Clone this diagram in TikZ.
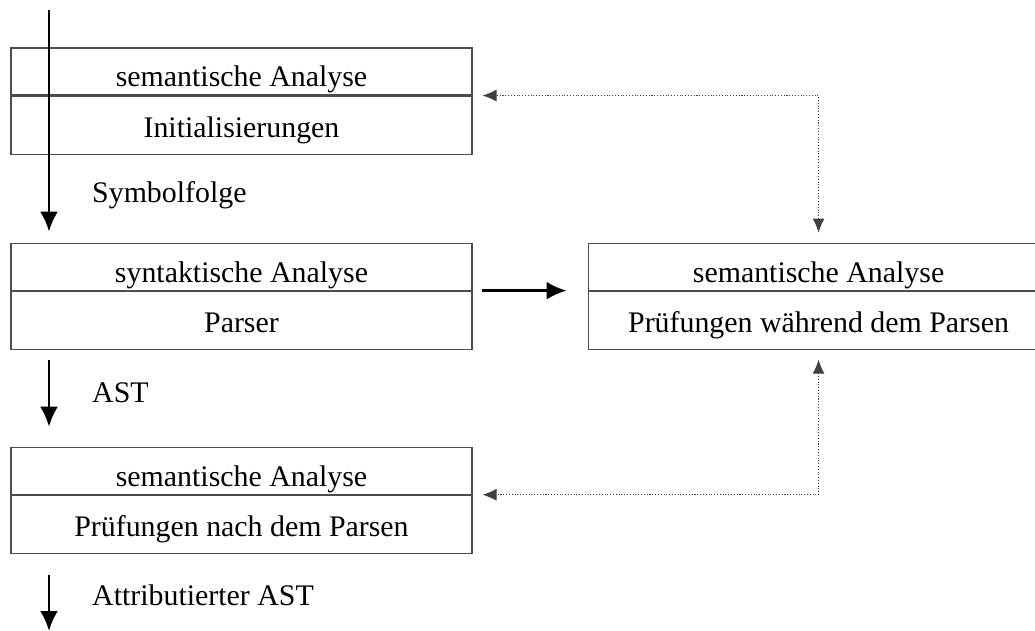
\documentclass[tikz,border=0pt]{standalone}
\usepackage{fontspec}
\setmainfont{Liberation Serif}
\usetikzlibrary{positioning, arrows.meta}

\begin{document}
\begin{tikzpicture}[node distance=1.76cm, font=\fontsize{17}{20}\selectfont]
                \tikzset{
                    head/.style={draw=black!70, line width=0.6pt, minimum width=9.22cm, minimum height=0.94cm, inner sep=0pt, text height=0.62cm, text depth=0cm},
                    body/.style={draw=black!70, line width=0.6pt, minimum width=9.22cm, minimum height=1.16cm, inner sep=0pt, text height=0.49cm, text depth=0cm},
                    flow/.style={-{Latex[length=0.4cm, width=0.36cm]}, line width=1.5pt},
                    link/.style={{Latex[length=0.28cm, width=0.24cm]}-{Latex[length=0.28cm, width=0.24cm]}, black!75, densely dotted, line width=0.6pt, shorten <=0.2cm, shorten >=0.2cm},
                    lbl/.style={anchor=west}
                }
                \useasboundingbox (0,0) rectangle (20.7,-12.62);

                % LEFT COLUMN
                \node[head] (initH) at (4.83,-1.43) {semantische Analyse};
                \node[body] (init) [below=0pt of initH] {Initialisierungen};
                \node[head] (synH) [below=of init] {syntaktische Analyse};
                \node[body] (parser) [below=0pt of synH] {Parser};
                \node[head] (semH) [below=1.94cm of parser] {semantische Analyse};
                \node[body] (nach) [below=0pt of semH] {Prüfungen nach dem Parsen};

                % RIGHT BOX
                \node[head] (wahrH) [right=2.3cm of synH] {semantische Analyse};
                \node[body] (wahr) [below=0pt of wahrH] {Prüfungen während dem Parsen};

                % DATA FLOW
                \coordinate (inTop) at (0.98,-0.2);
                \coordinate (outBot) at (0.98,-12.62);
                \draw[flow, shorten >=0.22cm] (inTop) -- (inTop |- synH.north);
                \draw[flow, shorten <=0.2cm, shorten >=0.4cm] (inTop |- parser.south) -- (inTop |- semH.north);
                \draw[flow, shorten <=0.42cm] (inTop |- nach.south) -- (outBot);
                \draw[flow, shorten <=0.18cm, shorten >=0.42cm] (synH.south east) -- (wahrH.south west);

                % LABELS
                \node[lbl] (symLbl) at (1.72,-3.9) {Symbolfolge};
                \node[lbl] (astLbl) at (1.72,-7.86) {AST};
                \node[lbl] (attLbl) at (1.72,-11.9) {Attributierter AST};

                % SEMANTIC LINKS
                \draw[link] (wahrH.north) |- (initH.south east);
                \draw[link] (wahr.south) |- (semH.south east);

            \end{tikzpicture}
\end{document}
